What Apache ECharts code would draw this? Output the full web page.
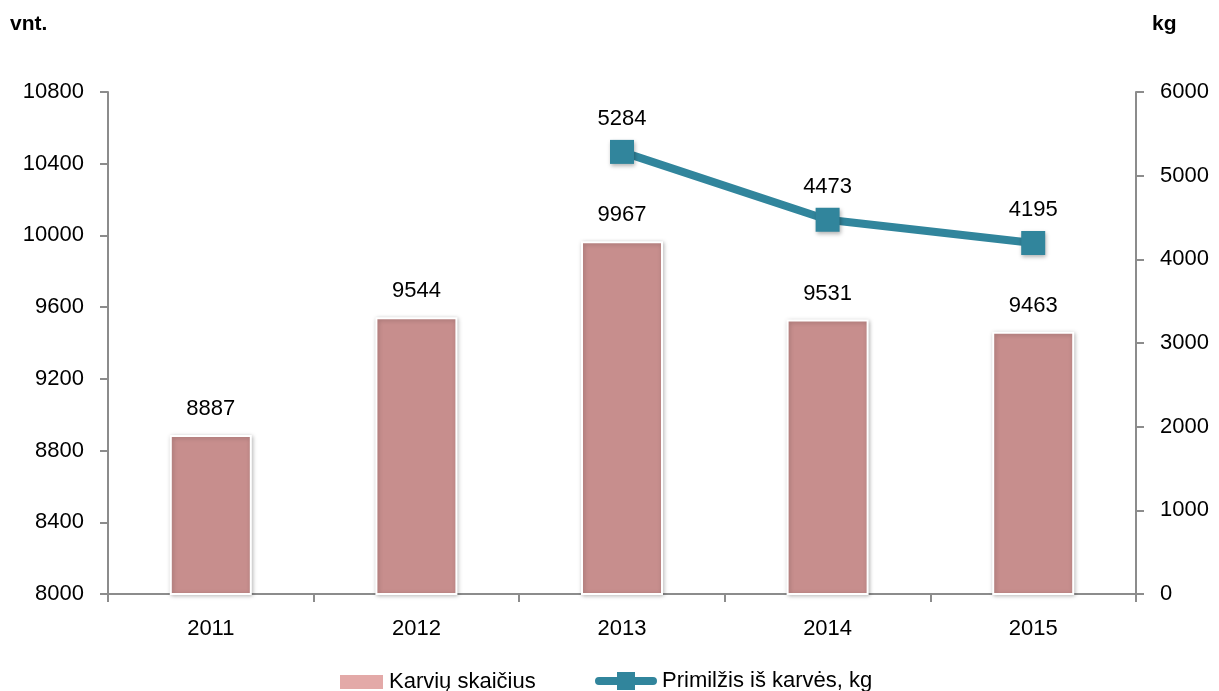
<!DOCTYPE html>
<html>
<head>
<meta charset="utf-8">
<script src="https://cdn.jsdelivr.net/npm/echarts@6/dist/echarts.min.js"></script>
<style>
  html, body { margin: 0; padding: 0; background: #fff; }
  #chart { width: 1219px; height: 691px; }
</style>
</head>
<body>
<div id="chart"></div>
<script>
const years = ['2011', '2012', '2013', '2014', '2015']
const cows = [8887, 9544, 9967, 9531, 9463]
const milkPerCow = [null, null, 5284, 4473, 4195]

const font = 'Liberation Sans'
const axisColor = '#8c8c8c'
const lineColor = '#31859c'
// legend icon: thick rounded line with a square in the middle
const lineIcon = 'path://M4,7 L22,7 L22,2 L40,2 L40,7 L58,7 A4,4 0 0 1 58,15 L40,15 L40,20 L22,20 L22,15 L4,15 A4,4 0 0 1 4,7 Z'

const chart = echarts.init(document.getElementById('chart'))
chart.setOption({
    animation: false,
    textStyle: { fontFamily: font },
    graphic: [
        { type: 'text', left: 10, top: 14, style: { text: 'vnt.', font: 'bold 21px ' + font, fill: '#000' } },
        { type: 'text', left: 1152, top: 14, style: { text: 'kg', font: 'bold 21px ' + font, fill: '#000' } }
    ],
    grid: { left: 108, right: 83, top: 92, bottom: 97 },
    legend: [
        {
            left: 333,
            top: 666,
            itemWidth: 45,
            itemHeight: 16,
            itemGap: 6,
            textStyle: { fontSize: 22, color: '#000', fontFamily: font },
            data: [{ name: 'Karvių skaičius', icon: 'rect', itemStyle: { color: '#e3a9a8' } }]
        },
        {
            left: 590,
            top: 665,
            itemWidth: 62,
            itemHeight: 18,
            itemGap: 3,
            textStyle: { fontSize: 22, color: '#000', fontFamily: font },
            data: [{ name: 'Primilžis iš karvės, kg', icon: lineIcon, itemStyle: { color: lineColor } }]
        }
    ],
    xAxis: {
        type: 'category',
        data: years,
        axisLine: { lineStyle: { color: axisColor, width: 2 } },
        axisTick: { show: true, length: 8, lineStyle: { color: axisColor, width: 2 } },
        axisLabel: { fontSize: 22, color: '#000', margin: 24 }
    },
    yAxis: [
        {
            type: 'value',
            min: 8000,
            max: 10800,
            interval: 400,
            axisLine: { show: true, lineStyle: { color: axisColor, width: 2 } },
            axisTick: { show: true, length: 8, lineStyle: { color: axisColor, width: 2 } },
            splitLine: { show: false },
            axisLabel: { fontSize: 22, color: '#000', margin: 24, formatter: v => String(v) }
        },
        {
            type: 'value',
            min: 0,
            max: 6000,
            interval: 1000,
            axisLine: { show: true, lineStyle: { color: axisColor, width: 2 } },
            axisTick: { show: true, length: 8, lineStyle: { color: axisColor, width: 2 } },
            splitLine: { show: false },
            axisLabel: { fontSize: 22, color: '#000', margin: 24, formatter: v => String(v) }
        }
    ],
    series: [
        {
            name: 'Karvių skaičius',
            type: 'bar',
            data: cows,
            barWidth: 82,
            itemStyle: {
                color: '#c78e8d',
                borderColor: '#ffffff',
                borderWidth: 2,
                shadowColor: 'rgba(0,0,0,0.25)',
                shadowBlur: 4,
                shadowOffsetX: 1,
                shadowOffsetY: 1
            },
            label: { show: true, position: 'top', distance: 15, fontSize: 22, color: '#000' }
        },
        {
            name: 'Primilžis iš karvės, kg',
            type: 'line',
            yAxisIndex: 1,
            data: milkPerCow,
            symbol: 'rect',
            symbolSize: 24,
            lineStyle: { color: lineColor, width: 8 },
            itemStyle: {
                color: lineColor,
                shadowColor: 'rgba(0,0,0,0.3)',
                shadowBlur: 4,
                shadowOffsetX: 1,
                shadowOffsetY: 2
            },
            label: { show: true, position: 'top', distance: 10, fontSize: 22, color: '#000' }
        }
    ]
})
</script>
</body>
</html>
